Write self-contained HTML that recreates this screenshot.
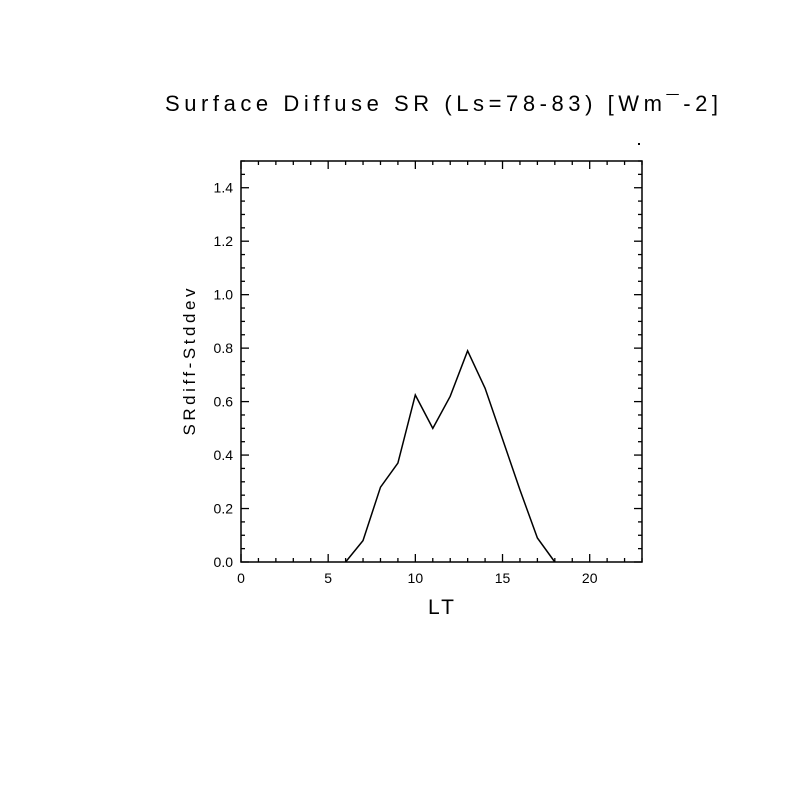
<!DOCTYPE html>
<html><head><style>body{margin:0;background:#fff}svg{display:block}</style></head><body>
<svg width="804" height="804" xmlns="http://www.w3.org/2000/svg" font-family="Liberation Sans, DejaVu Sans, sans-serif">
<rect width="804" height="804" fill="#fff"/>
<text x="165" y="111" font-size="22" textLength="553" lengthAdjust="spacing">Surface Diffuse SR (Ls=78-83) [Wm¯-2]</text>
<rect x="638" y="143" width="2" height="2" fill="#000"/>
<g id="ticks" stroke="#000" stroke-width="1.3"></g>
<rect x="241" y="161" width="401" height="401" fill="none" stroke="#000" stroke-width="1.5"/>
<g id="labels" font-size="14"></g>
<text x="441" y="614" font-size="21" text-anchor="middle" textLength="26">LT</text>
<text transform="translate(195,362) rotate(-90)" font-size="17" text-anchor="middle" textLength="147" lengthAdjust="spacing">SRdiff-Stddev</text>
<polyline fill="none" stroke="#000" stroke-width="1.5" points="
345.6,562 363.0,540.6 380.5,487.2 397.9,463.1 415.3,395.0 432.8,428.4 450.2,396.3 467.6,350.8 485.1,388.3 502.5,439.0 519.9,489.8 537.4,538.0 554.8,562"/>
</svg>
<script>
const t=document.getElementById('ticks'),l=document.getElementById('labels');
let s='',L='';
for(let u=0;u<=23;u++){const x=241+u*401/23;const len=u%5==0?8:4;
s+=`<line x1="${x}" y1="562" x2="${x}" y2="${562-len}"/><line x1="${x}" y1="161" x2="${x}" y2="${161+len}"/>`;
if(u%5==0)L+=`<text x="${x}" y="583" text-anchor="middle">${u}</text>`;}
for(let k=0;k<=30;k++){const y=562-k*401/30;const len=k%4==0?8:4;
s+=`<line x1="241" y1="${y}" x2="${241+len}" y2="${y}"/><line x1="642" y1="${y}" x2="${642-len}" y2="${y}"/>`;
if(k%4==0)L+=`<text x="233" y="${y+5}" text-anchor="end">${(k*0.05).toFixed(1)}</text>`;}
t.innerHTML=s;l.innerHTML=L;
</script>
</body></html>
